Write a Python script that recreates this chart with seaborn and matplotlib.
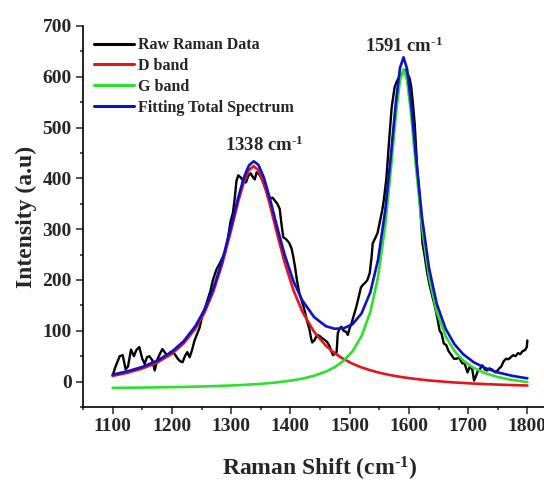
import matplotlib
matplotlib.use("Agg")
import matplotlib.pyplot as plt
import seaborn as sns
import pandas as pd
from matplotlib.ticker import MultipleLocator

# ---------------- data ----------------
RAW_X = [1100, 1105, 1112, 1117, 1122, 1126, 1131, 1136, 1140, 1145, 1150, 1154, 1158, 1162,
         1167, 1171, 1176, 1180, 1184, 1189, 1193, 1197, 1201, 1206, 1210, 1214, 1218, 1222,
         1226, 1230, 1234, 1238, 1243, 1247, 1252, 1256, 1260, 1265, 1269, 1275, 1281, 1286,
         1290, 1295, 1299, 1303, 1306, 1309, 1312, 1316, 1320, 1325, 1329, 1333, 1337, 1340,
         1343, 1346, 1350, 1354, 1358, 1362, 1366, 1370, 1374, 1378, 1382, 1385, 1388, 1393,
         1398, 1402, 1405, 1408, 1411, 1415, 1419, 1424, 1428, 1432, 1435, 1437, 1441, 1445,
         1449, 1453, 1458, 1462, 1466, 1469, 1472, 1475, 1478, 1480, 1483, 1486, 1490, 1494,
         1497, 1500, 1503, 1507, 1511, 1515, 1519, 1522, 1525, 1530, 1534, 1537, 1539, 1543,
         1547, 1551, 1555, 1558, 1562, 1567, 1571, 1576, 1580, 1584, 1588, 1592, 1595, 1598,
         1601, 1604, 1607, 1610, 1614, 1618, 1621, 1623, 1627, 1631, 1635, 1640, 1644, 1648,
         1652, 1655, 1659, 1663, 1667, 1672, 1676, 1680, 1685, 1690, 1694, 1699, 1703, 1707,
         1710, 1713, 1716, 1720, 1724, 1728, 1732, 1736, 1740, 1744, 1747, 1751, 1756, 1760,
         1764, 1768, 1772, 1776, 1780, 1784, 1788, 1792, 1796, 1799, 1800]
RAW_Y = [12, 30, 50, 52, 24, 30, 63, 50, 62, 68, 45, 35, 48, 50,
         42, 22, 45, 55, 64, 56, 50, 57, 60, 52, 45, 40, 38, 50,
         58, 48, 62, 80, 95, 107, 134, 145, 160, 178, 199, 220, 233, 245,
         255, 285, 315, 332, 360, 395, 406, 402, 396, 392, 405, 410, 402, 398,
         412, 410, 403, 392, 380, 368, 360, 362, 356, 350, 340, 310, 284, 280,
         273, 262, 245, 225, 200, 175, 160, 140, 120, 104, 85, 77, 82, 92,
         90, 86, 82, 78, 70, 60, 52, 55, 58, 95, 104, 108, 100, 98,
         92, 105, 114, 130, 146, 165, 185, 190, 193, 200, 214, 245, 272, 282,
         292, 315, 337, 360, 400, 480, 540, 580, 592, 600, 606, 612, 614, 605,
         598, 580, 545, 505, 420, 363, 310, 272, 245, 213, 190, 166, 148, 125,
         100, 95, 75, 72, 60, 52, 45, 45, 47, 36, 36, 18, 30, 24,
         2, 10, 20, 25, 32, 24, 22, 26, 24, 20, 18, 24, 30, 40,
         45, 44, 48, 52, 50, 56, 54, 60, 62, 68, 81]

FIT_X = [1100, 1125, 1150, 1175, 1200, 1220, 1240, 1255, 1270, 1285, 1300, 1312, 1322, 1330,
         1338, 1346, 1355, 1365, 1377, 1390, 1405, 1420, 1440, 1460, 1475, 1490, 1505, 1520,
         1535, 1548, 1560, 1570, 1578, 1585, 1591, 1597, 1604, 1612, 1622, 1634, 1647, 1662,
         1677, 1692, 1710, 1730, 1750, 1775, 1800]
D_BAND = [11.2, 17.3, 25.6, 37.4, 54.8, 75.2, 104.7, 135.7, 177.2, 231.6, 298.3, 354.6, 394.9, 416.3,
          424.0, 416.3, 391.4, 350.1, 293.6, 235.7, 180.4, 138.1, 97.9, 70.5, 55.7, 44.2, 35.2, 28.0,
          22.3, 18.1, 14.9, 12.5, 10.8, 9.5, 8.4, 7.4, 6.3, 5.1, 3.8, 2.3, 1.0, -0.4,
          -1.7, -2.7, -3.9, -5.0, -5.9, -6.9, -7.7]
G_BAND = [-12.4, -12.1, -11.8, -11.4, -10.9, -10.5, -9.9, -9.5, -8.9, -8.3, -7.6, -7.0, -6.4, -5.9,
          -5.3, -4.7, -3.9, -2.9, -1.5, 0.2, 2.7, 5.8, 11.5, 19.7, 28.6, 41.2, 60.0, 89.3,
          137.3, 206.1, 306.3, 422.2, 523.9, 593.1, 615.0, 593.1, 523.9, 422.2, 306.3, 206.1, 137.3, 89.3,
          60.0, 41.2, 26.6, 16.0, 9.0, 3.1, -0.9]
TOTAL = [13.8, 20.2, 28.8, 41.0, 58.9, 79.7, 109.8, 141.2, 183.2, 238.3, 305.7, 362.6, 403.4, 425.4,
         433.7, 426.7, 402.5, 362.2, 307.1, 250.9, 198.1, 160.0, 127.0, 109.0, 104.0, 105.0, 113.0, 134.0,
         176.0, 240.0, 336.2, 449.7, 549.7, 617.6, 638.4, 615.5, 545.2, 442.3, 325.0, 223.5, 153.3, 103.9,
         73.4, 53.5, 37.7, 26.1, 18.1, 11.2, 6.4]

SERIES_LABELS = ["Raw Raman Data", "D band", "G band", "Fitting Total Spectrum"]
SERIES_COLORS = ["#000000", "#e8141c", "#2ee02e", "#1010c8"]
PEAK_LABELS = [(1356, 446, "1338 cm$^{\\text{-}1}$"), (1592, 640, "1591 cm$^{\\text{-}1}$")]
X_TICKS = [1100, 1200, 1300, 1400, 1500, 1600, 1700, 1800]
Y_TICKS = [0, 100, 200, 300, 400, 500, 600, 700]

# ---------------- style ----------------
sns.set_style("ticks")
plt.rcParams["font.family"] = ["Liberation Serif", "DejaVu Serif"]
plt.rcParams["font.weight"] = "bold"
plt.rcParams["mathtext.fontset"] = "custom"
plt.rcParams["mathtext.rm"] = "Liberation Serif:bold"
plt.rcParams["mathtext.bf"] = "Liberation Serif:bold"
plt.rcParams["mathtext.it"] = "Liberation Serif:bold"
plt.rcParams["mathtext.default"] = "rm"

fig = plt.figure(figsize=(5.44, 4.82), dpi=100)
ax = fig.add_axes([83 / 544, 75 / 482, 474 / 544, 381 / 482])

raw_df = pd.DataFrame({"x": RAW_X, "y": RAW_Y})
fit_df = pd.DataFrame({"x": FIT_X, "D": D_BAND, "G": G_BAND, "T": TOTAL})

sns.lineplot(data=raw_df, x="x", y="y", ax=ax, color=SERIES_COLORS[0], lw=1.7,
             label=SERIES_LABELS[0], estimator=None)
sns.lineplot(data=fit_df, x="x", y="D", ax=ax, color=SERIES_COLORS[1], lw=1.9,
             label=SERIES_LABELS[1], estimator=None)
sns.lineplot(data=fit_df, x="x", y="G", ax=ax, color=SERIES_COLORS[2], lw=1.9,
             label=SERIES_LABELS[2], estimator=None)
sns.lineplot(data=fit_df, x="x", y="T", ax=ax, color=SERIES_COLORS[3], lw=1.9,
             label=SERIES_LABELS[3], estimator=None)

ax.set_xlim(1050, 1850)
ax.set_ylim(-50, 700)
ax.set_xticks(X_TICKS)
ax.set_yticks(Y_TICKS)
ax.xaxis.set_minor_locator(MultipleLocator(50))
ax.yaxis.set_minor_locator(MultipleLocator(50))
ax.tick_params(which="major", length=5, width=1.1, labelsize=14, pad=3, direction="out")
ax.tick_params(which="minor", length=2.5, width=1.1, direction="out")
for lab in ax.get_xticklabels() + ax.get_yticklabels():
    lab.set_fontweight("bold")
sns.despine(ax=ax)
for s in ["left", "bottom"]:
    ax.spines[s].set_linewidth(1.2)
    ax.spines[s].set_color("black")

ax.set_xlabel("Raman Shift (cm$^{\\text{-}1}$)", fontsize=17, fontweight="bold", labelpad=14)
ax.set_ylabel("Intensity (a.u)", fontsize=17, fontweight="bold", labelpad=4)

for x, y, t in PEAK_LABELS:
    ax.text(x, y, t, ha="center", va="bottom", fontsize=13.5, fontweight="bold")

leg = ax.legend(loc="upper left", frameon=False, prop={"weight": "bold", "size": 11.5},
                handlelength=2.5, handletextpad=0.25, labelspacing=0.3,
                borderaxespad=0.3, borderpad=0.4)
leg.set_bbox_to_anchor((0.0, 1.0), transform=ax.transAxes)
for h in leg.get_lines():
    h.set_linewidth(2.2)

fig.savefig("out.png", dpi=100)
